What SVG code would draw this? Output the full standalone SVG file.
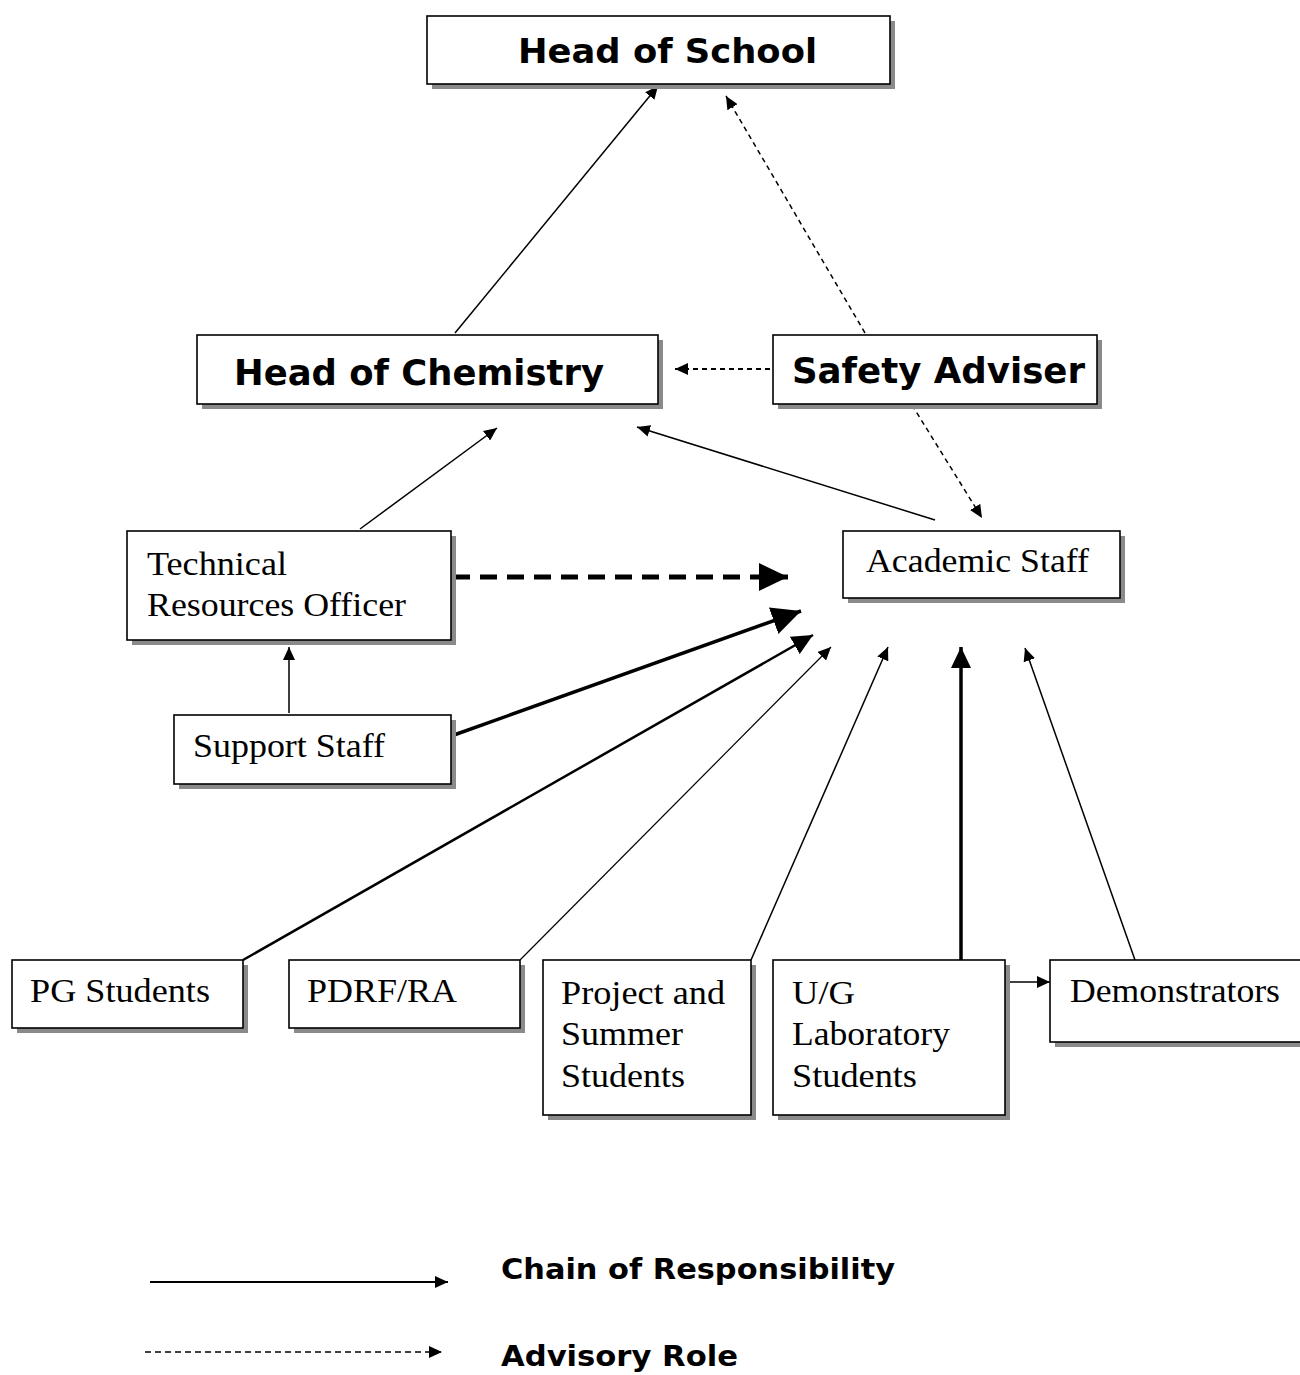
<svg xmlns="http://www.w3.org/2000/svg" width="1300" height="1375" viewBox="0 0 1300 1375">
<style>
.sh{fill:#8a8a8a;stroke:none}
.bx{fill:#fff;stroke:#000;stroke-width:1.6}
.bold{font-family:"DejaVu Sans","Liberation Sans",sans-serif;font-weight:bold;fill:#000}
.ser{font-family:"Liberation Serif","Times New Roman",serif;font-size:33px;fill:#000}
.ln{fill:none;stroke:#000;stroke-width:1.5}
.dash{stroke-dasharray:5 4}
</style>
<defs>
<marker id="s" markerUnits="userSpaceOnUse" markerWidth="14" markerHeight="12" refX="13" refY="6" orient="auto">
<path d="M0,0 L13,6 L0,12 z" fill="#000"/>
</marker>
<marker id="m" markerUnits="userSpaceOnUse" markerWidth="22" markerHeight="20" refX="21" refY="10" orient="auto">
<path d="M0,0 L21,10 L0,20 z" fill="#000"/>
</marker>
<marker id="l" markerUnits="userSpaceOnUse" markerWidth="30" markerHeight="28" refX="29" refY="14" orient="auto">
<path d="M0,0 L29,14 L0,28 z" fill="#000"/>
</marker>
</defs>
<rect width="1300" height="1375" fill="#fff"/>

<g id="connectors">
<line class="ln" x1="455" y1="333" x2="658" y2="86" marker-end="url(#s)"/>
<line class="ln dash" x1="865" y1="333" x2="726" y2="96" marker-end="url(#s)"/>
<line class="ln" style="stroke-width:2.2;stroke-dasharray:5 4" x1="770" y1="369" x2="675" y2="369" marker-end="url(#s)"/>
<line class="ln" x1="360" y1="529" x2="497" y2="428" marker-end="url(#s)"/>
<line class="ln" x1="935" y1="520" x2="637" y2="427" marker-end="url(#s)"/>
<line class="ln dash" x1="912" y1="405" x2="982" y2="518" marker-end="url(#s)"/>
<line class="ln" style="stroke-width:5;stroke-dasharray:17 10" x1="453" y1="577" x2="788" y2="577" marker-end="url(#l)"/>
<line class="ln" x1="289" y1="713" x2="289" y2="647" marker-end="url(#s)"/>
<line class="ln" style="stroke-width:3.5" x1="454" y1="735" x2="801" y2="611" marker-end="url(#l)"/>
<line class="ln" style="stroke-width:2.5" x1="243" y1="960" x2="813" y2="635" marker-end="url(#m)"/>
<line class="ln" style="stroke-width:1.2" x1="520" y1="960" x2="831" y2="647" marker-end="url(#s)"/>
<line class="ln" x1="751" y1="960" x2="888" y2="647" marker-end="url(#s)"/>
<line class="ln" style="stroke-width:3.5" x1="961" y1="960" x2="961" y2="647" marker-end="url(#m)"/>
<line class="ln" x1="1005" y1="982" x2="1050" y2="982" marker-end="url(#s)"/>
<line class="ln" x1="1135" y1="960" x2="1025" y2="648" marker-end="url(#s)"/>
</g>

<g id="head-of-school">
<rect class="sh" x="432" y="21" width="463" height="68"/>
<rect class="bx" x="427" y="16" width="463" height="68"/>
<text class="bold" x="518" y="63" font-size="33" textLength="299" lengthAdjust="spacingAndGlyphs">Head of School</text>
</g>

<g id="head-of-chemistry">
<rect class="sh" x="202" y="340" width="461" height="69"/>
<rect class="bx" x="197" y="335" width="461" height="69"/>
<text class="bold" x="234" y="385" font-size="36" textLength="370" lengthAdjust="spacingAndGlyphs">Head of Chemistry</text>
</g>

<g id="safety-adviser">
<rect class="sh" x="778" y="340" width="324" height="69"/>
<rect class="bx" x="773" y="335" width="324" height="69"/>
<text class="bold" x="792" y="383" font-size="36" textLength="293" lengthAdjust="spacingAndGlyphs">Safety Adviser</text>
</g>

<g id="technical-resources-officer">
<rect class="sh" x="132" y="536" width="324" height="109"/>
<rect class="bx" x="127" y="531" width="324" height="109"/>
<text class="ser" x="147" y="575" textLength="140" lengthAdjust="spacingAndGlyphs">Technical</text>
<text class="ser" x="147" y="616" textLength="259" lengthAdjust="spacingAndGlyphs">Resources Officer</text>
</g>

<g id="academic-staff">
<rect class="sh" x="848" y="536" width="277" height="67"/>
<rect class="bx" x="843" y="531" width="277" height="67"/>
<text class="ser" x="866" y="572" textLength="223" lengthAdjust="spacingAndGlyphs">Academic Staff</text>
</g>

<g id="support-staff">
<rect class="sh" x="179" y="720" width="277" height="69"/>
<rect class="bx" x="174" y="715" width="277" height="69"/>
<text class="ser" x="193" y="757" textLength="192" lengthAdjust="spacingAndGlyphs">Support Staff</text>
</g>

<g id="pg-students">
<rect class="sh" x="17" y="965" width="231" height="68"/>
<rect class="bx" x="12" y="960" width="231" height="68"/>
<text class="ser" x="30" y="1002" textLength="180" lengthAdjust="spacingAndGlyphs">PG Students</text>
</g>

<g id="pdrf-ra">
<rect class="sh" x="294" y="965" width="231" height="68"/>
<rect class="bx" x="289" y="960" width="231" height="68"/>
<text class="ser" x="307" y="1002" textLength="150" lengthAdjust="spacingAndGlyphs">PDRF/RA</text>
</g>

<g id="project-summer-students">
<rect class="sh" x="548" y="965" width="208" height="155"/>
<rect class="bx" x="543" y="960" width="208" height="155"/>
<text class="ser" x="561" y="1004" textLength="164" lengthAdjust="spacingAndGlyphs">Project and</text>
<text class="ser" x="561" y="1045" textLength="122" lengthAdjust="spacingAndGlyphs">Summer</text>
<text class="ser" x="561" y="1087" textLength="124" lengthAdjust="spacingAndGlyphs">Students</text>
</g>

<g id="ug-laboratory-students">
<rect class="sh" x="778" y="965" width="232" height="155"/>
<rect class="bx" x="773" y="960" width="232" height="155"/>
<text class="ser" x="792" y="1004" textLength="63" lengthAdjust="spacingAndGlyphs">U/G</text>
<text class="ser" x="792" y="1045" textLength="158" lengthAdjust="spacingAndGlyphs">Laboratory</text>
<text class="ser" x="792" y="1087" textLength="125" lengthAdjust="spacingAndGlyphs">Students</text>
</g>

<g id="demonstrators">
<rect class="sh" x="1055" y="965" width="270" height="82"/>
<rect class="bx" x="1050" y="960" width="270" height="82"/>
<text class="ser" x="1070" y="1002" textLength="210" lengthAdjust="spacingAndGlyphs">Demonstrators</text>
</g>

<g id="legend">
<line class="ln" style="stroke-width:2" x1="150" y1="1282" x2="448" y2="1282" marker-end="url(#s)"/>
<line class="ln" style="stroke-dasharray:6 4" x1="145" y1="1352" x2="442" y2="1352" marker-end="url(#s)"/>
<text class="bold" x="501" y="1279" font-size="29" textLength="394" lengthAdjust="spacingAndGlyphs">Chain of Responsibility</text>
<text class="bold" x="501" y="1366" font-size="28" textLength="237" lengthAdjust="spacingAndGlyphs">Advisory Role</text>
</g>
</svg>
